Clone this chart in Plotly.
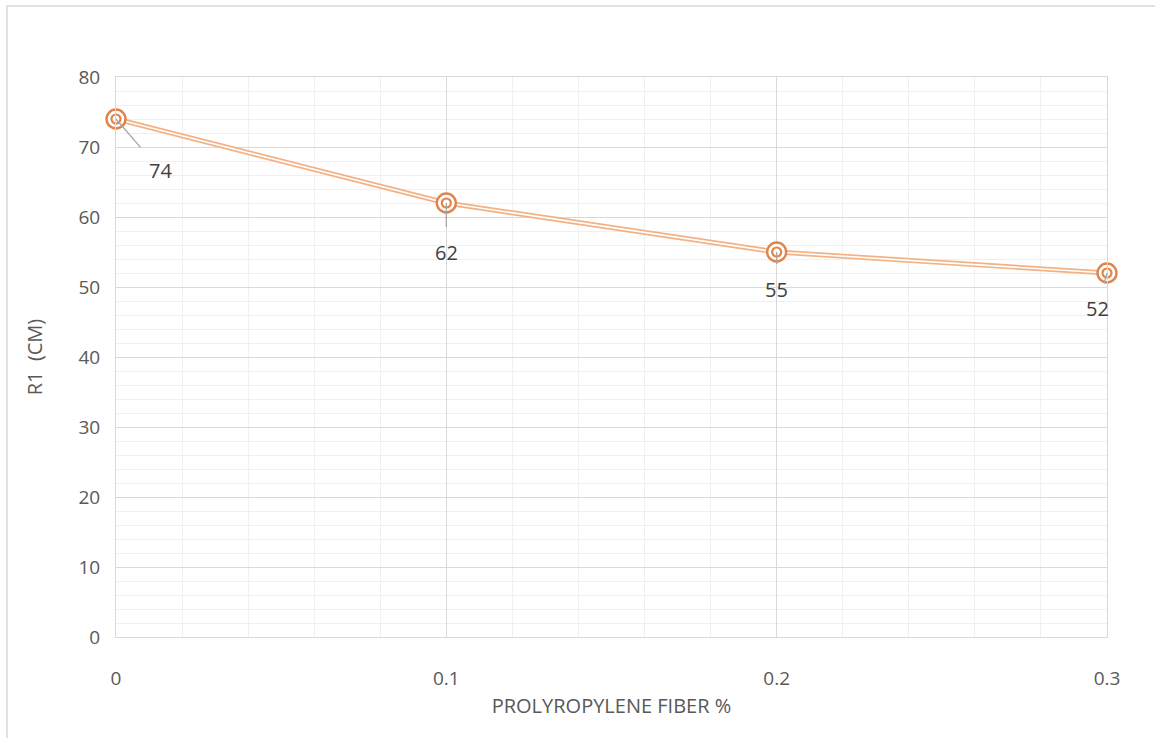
import plotly.graph_objects as go

fiber = [0, 0.1, 0.2, 0.3]
r1 = [74, 62, 55, 52]
x_ticks = [0, 0.1, 0.2, 0.3]
x_tick_labels = ["0", "0.1", "0.2", "0.3"]
y_ticks = [0, 10, 20, 30, 40, 50, 60, 70, 80]
label_offsets = [(44, 51), (0, 49), (0, 37), (-10, 35)]

FONT = "Open Sans"
TXT = "#595959"
LINE_OUT = "#F4B183"
MARK = "#E0844A"

fig = go.Figure()

# compound (double) line: thick orange with thin white centre
fig.add_trace(go.Scatter(x=fiber, y=r1, mode="lines", cliponaxis=False,
                         line=dict(color=LINE_OUT, width=5), hoverinfo="skip", showlegend=False))
fig.add_trace(go.Scatter(x=fiber, y=r1, mode="lines", cliponaxis=False,
                         line=dict(color="white", width=1.6), hoverinfo="skip", showlegend=False))
# double-ring markers
fig.add_trace(go.Scatter(x=fiber, y=r1, mode="markers", cliponaxis=False,
                         marker=dict(symbol="circle", size=19, color="white",
                                     line=dict(color=MARK, width=2.4)),
                         hoverinfo="skip", showlegend=False))
fig.add_trace(go.Scatter(x=fiber, y=r1, mode="markers", cliponaxis=False,
                         marker=dict(symbol="circle-open", size=9, color=MARK,
                                     line=dict(color=MARK, width=2.2)),
                         showlegend=False))

for xv, yv, (ax, ay) in zip(fiber, r1, label_offsets):
    fig.add_annotation(x=xv, y=yv, text=str(yv), showarrow=True, arrowhead=0,
                       arrowwidth=1.3, arrowcolor="#A6A6A6", ax=ax, ay=ay,
                       standoff=0, startstandoff=10,
                       font=dict(family=FONT, size=20, color="#404040"))

# outer chart border
fig.add_shape(type="rect", xref="paper", yref="paper",
              x0=-109/991, x1=1.06, y0=-0.2, y1=1 + 71/560,
              line=dict(color="#D9D9D9", width=1.5), layer="below")

fig.update_xaxes(range=[0, 0.3], tickvals=x_ticks, ticktext=x_tick_labels,
                 showgrid=True, gridcolor="#D9D9D9", gridwidth=1,
                 minor=dict(dtick=0.02, showgrid=True, gridcolor="#F0F0F0", gridwidth=1),
                 showline=True, linecolor="#D9D9D9", linewidth=1, mirror=True,
                 zeroline=False, ticks="", ticklabelstandoff=24,
                 tickfont=dict(family=FONT, size=19, color=TXT),
                 title=dict(text="PROLYROPYLENE FIBER %", standoff=9,
                            font=dict(family=FONT, size=20, color=TXT)))
fig.update_yaxes(range=[0, 80], tickvals=y_ticks,
                 showgrid=True, gridcolor="#D9D9D9", gridwidth=1,
                 minor=dict(dtick=2, showgrid=True, gridcolor="#F0F0F0", gridwidth=1),
                 showline=True, linecolor="#D9D9D9", linewidth=1, mirror=True,
                 zeroline=False, ticks="", ticklabelstandoff=11,
                 tickfont=dict(family=FONT, size=19, color=TXT),
                 title=dict(text="R1\u00a0\u00a0(CM)", standoff=30,
                            font=dict(family=FONT, size=20, color=TXT)))

fig.update_layout(width=1155, height=738, autosize=False,
                  margin=dict(l=116, r=48, t=77, b=101),
                  paper_bgcolor="white", plot_bgcolor="white",
                  showlegend=False)

fig.write_html("out.html")
